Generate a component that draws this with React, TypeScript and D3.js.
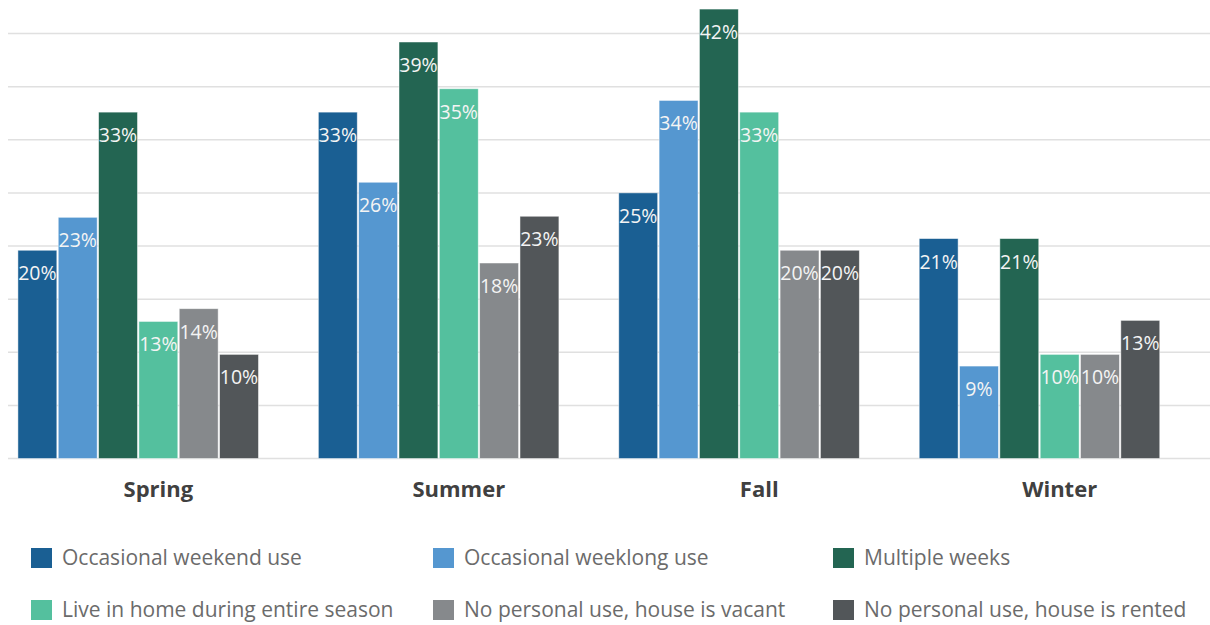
import React from "react";
import * as d3 from "d3";

const seasons = ["Spring", "Summer", "Fall", "Winter"];
const seriesNames = [
  "Occasional weekend use",
  "Occasional weeklong use",
  "Multiple weeks",
  "Live in home during entire season",
  "No personal use, house is vacant",
  "No personal use, house is rented",
];
const colors = ["#1a5f93", "#5597d0", "#236552", "#54c09e", "#86898c", "#525659"];
// values (labels show them rounded)
const weekendUse = [19.6, 32.6, 25.0, 20.7];
const weeklongUse = [22.7, 26.0, 33.7, 8.7];
const multipleWeeks = [32.6, 39.2, 42.3, 20.7];
const entireSeason = [12.9, 34.8, 32.6, 9.8];
const vacant = [14.1, 18.4, 19.6, 9.8];
const rented = [9.8, 22.8, 19.6, 13.0];
const seriesValues = [weekendUse, weeklongUse, multipleWeeks, entireSeason, vacant, rented];
const gridTicks = [0, 5, 10, 15, 20, 25, 30, 35, 40];

const W = 1210;
const H = 625;
const FONT = "'Open Sans', sans-serif";

export default function App() {
  const x0 = d3
    .scaleBand<string>()
    .domain(seasons)
    .range([8, 1210])
    .paddingInner(0.065)
    .paddingOuter(0.033);
  // 7 slots per group; the last slot is left empty
  const x1 = d3
    .scaleBand<number>()
    .domain(d3.range(seriesNames.length + 1))
    .range([0, x0.bandwidth()])
    .paddingInner(0.035)
    .paddingOuter(0);
  const y = d3.scaleLinear().domain([0, 40]).range([458.5, 33.5]);

  const legendCols = [31, 433, 833];
  const legendRows = [548, 600];

  return (
    <svg
      width={W}
      height={H}
      style={{ position: "absolute", left: 0, top: 0, background: "#fff" }}
      fontFamily={FONT}
    >
      {gridTicks.map((t) => (
        <line
          key={t}
          x1={8}
          x2={1210}
          y1={y(t)}
          y2={y(t)}
          stroke="#e0e0e0"
          strokeWidth={1.5}
        />
      ))}
      {seasons.map((s, si) => (
        <g key={s} transform={`translate(${x0(s)},0)`}>
          {seriesValues.map((vals, k) => {
            const v = vals[si];
            const bx = x1(k)!;
            const bw = x1.bandwidth();
            return (
              <g key={k}>
                <rect
                  x={bx}
                  y={y(v)}
                  width={bw}
                  height={y(0) - y(v)}
                  fill={colors[k]}
                  stroke="#ffffff"
                  strokeOpacity={0.6}
                  strokeWidth={0.8}
                />
                <text
                  x={bx + bw / 2}
                  y={y(v) + 30}
                  textAnchor="middle"
                  fill="#f4f4f4"
                  fontSize={19.5}
                >
                  {Math.round(v)}%
                </text>
              </g>
            );
          })}
          <text
            x={x0.bandwidth() / 2}
            y={497}
            textAnchor="middle"
            fontSize={22}
            fontWeight="bold"
            fill="#404040"
          >
            {s}
          </text>
        </g>
      ))}
      {seriesNames.map((n, k) => {
        const cx = legendCols[k % 3];
        const ry = legendRows[Math.floor(k / 3)];
        return (
          <g key={n}>
            <rect x={cx} y={ry} width={21} height={20} fill={colors[k]} />
            <text x={cx + 31} y={ry + 17} fontSize={21} fill="#6b6b6b">
              {n}
            </text>
          </g>
        );
      })}
    </svg>
  );
}
